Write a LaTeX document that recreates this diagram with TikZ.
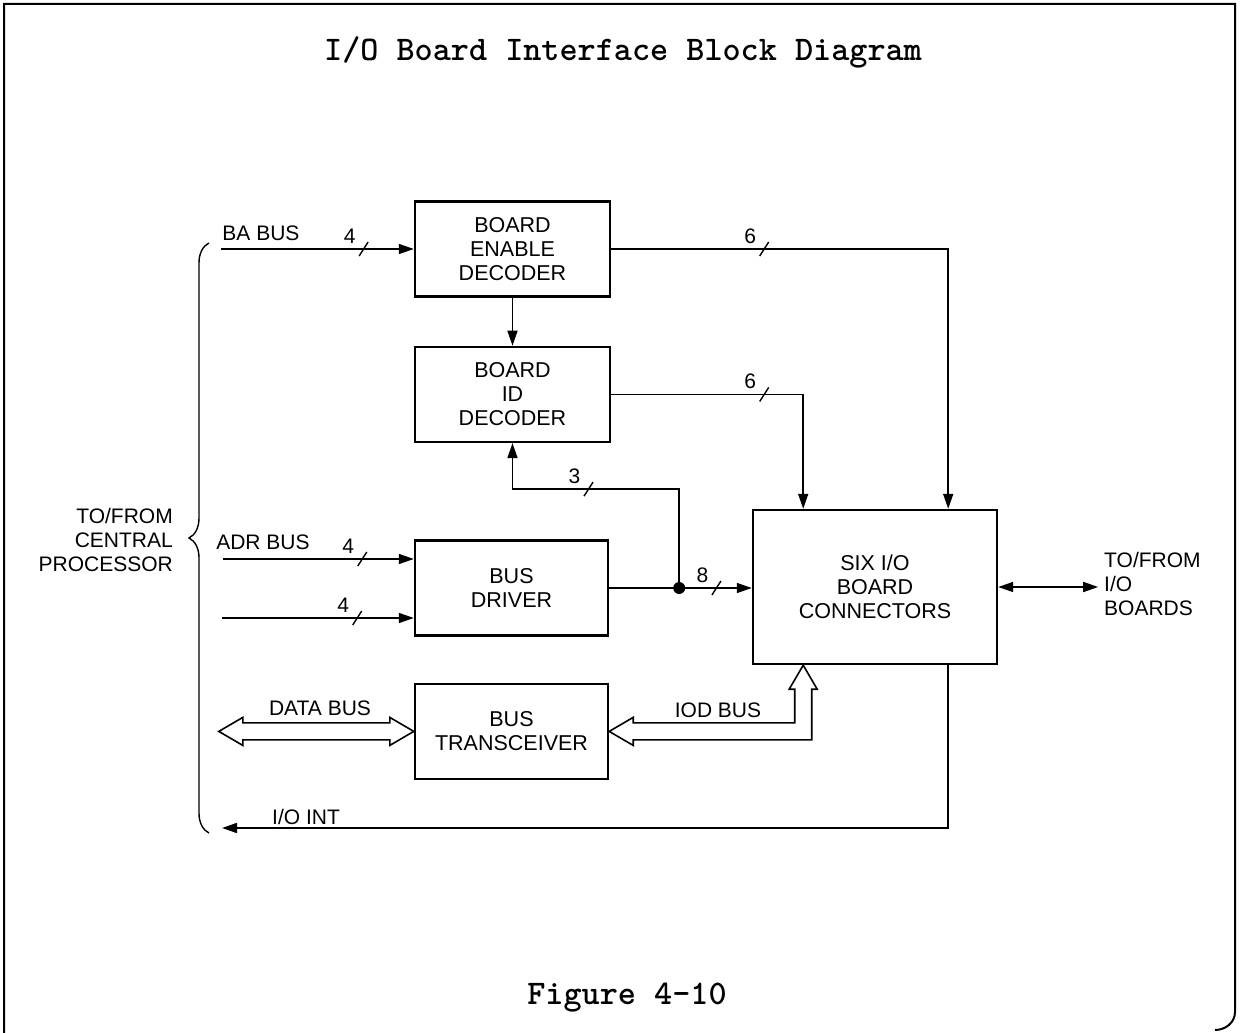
\documentclass[tikz,border=0pt]{standalone}
\usepackage{fontspec}
\setmainfont{Liberation Sans}
\usetikzlibrary{arrows.meta,calc,positioning,decorations.pathreplacing}

\begin{document}
\begin{tikzpicture}[x=1pt,y=-1pt,
  >={Triangle[length=15pt,width=10pt]},
  blk/.style={draw,line width=2.4pt,align=center,font=\fontsize{21.5}{24}\selectfont,
              minimum width=#1,minimum height=95},blk/.default=195,
  lbl/.style={inner sep=0pt,font=\fontsize{21}{24}\selectfont},
  ttl/.style={inner sep=0pt,font=\ttfamily\bfseries\fontsize{34.5}{40}\selectfont},
  sig/.style={line width=1.6pt,->},
  bus/.style={draw,line width=1.6pt,fill=white,line join=miter},
  bw/.pic={\draw[line width=1.4pt,-] (-4.5,7) -- (4.5,-7);
           \node[lbl,text depth=0pt] (-n) at (-14,-13) {#1};}]
  \useasboundingbox (0,0) rectangle (1240,1033);
  \draw[line width=2pt] (4,1033) -- (4,4) -- (1235,4) -- (1235,1012) to[out=-90,in=0] (1215,1030);
  \node[ttl] (title) at (623,52) {I/O Board Interface Block Diagram};
  \node[ttl] (fig) at (627,998) {Figure 4-10};
  % blocks
  \node[blk] (bed) at (512.5,249) {BOARD\\ENABLE\\DECODER};
  \node[blk,below=48pt of bed] (bid) {BOARD\\ID\\DECODER};
  \node[blk=193] (drv) at (511.5,588) {BUS\\DRIVER};
  \node[blk=193,below=46pt of drv] (txv) {BUS\\TRANSCEIVER};
  \node[blk=244,minimum height=154] (six) at (875,587) {SIX I/O\\BOARD\\CONNECTORS};
  \node[circle,fill,inner sep=0pt,minimum size=12] (jn) at ($(drv.east)+(70,0)$) {};
  % free ends and corners
  \coordinate (bain) at ($(bed.west)+(-193,0)$);
  \coordinate (adr1) at (223,559);
  \coordinate (adr2) at (222,618);
  \coordinate (c6a) at ($(bed.east)+(337,0)$);
  \coordinate (c6b) at ($(bid.east)+(192,0)$);
  \coordinate (c3) at ($(bid.south)+(0,46)$);
  \coordinate (iout) at (222,828);
  \coordinate (brd) at ($(six.east)+(100,0)$);
  \coordinate (dbus) at ($(txv.west)+(-195,0)$);
  \coordinate (ciod) at ($(txv.east)+(194,0)$);
  % signal lines
  \foreach \a/\b/\w/\p in {bain/bed/4/.74,adr1/drv/4/.73,adr2/drv/4/.705}
    \draw[sig] (\a) -- (\b.west |- \a) pic[pos=\p] (w\a) {bw=\w};
  \draw[sig] (bed.east) -- (c6a) pic[pos=.454] (w6a) {bw=6} -- (six.north -| c6a);
  \draw[sig] (bed) -- (bid);
  \draw[sig] (bid.east) -- (c6b) pic[pos=.797] (w6b) {bw=6} -- (six.north -| c6b);
  \draw[sig] (drv.east) -- (six.west |- drv.east) pic[pos=.752] (w8) {bw=8};
  \draw[sig] (jn) |- (c3) pic[pos=.772] (w3) {bw=3} -- (bid.south);
  \draw[sig] (six.south -| c6a) |- (iout);
  \draw[line width=1.6pt,<->] (six.east) -- (brd);
  % hollow buses
  \draw[bus] (dbus) -- ++(24,-14) -- ++(0,5.5) -- ($(txv.west)+(-24,-8.5)$) -- ++(0,-5.5)
    -- (txv.west) -- ++(-24,14) -- ++(0,-5.5) -- ($(dbus)+(24,8.5)$) -- ++(0,5.5) -- cycle;
  \draw[bus] (six.south -| ciod) -- ++(14,24) -- ++(-5.5,0) |- ($(txv.east)+(24,8.5)$) -- ++(0,5.5)
    -- (txv.east) -- ++(24,-14) -- ++(0,5.5) -| ($(six.south -| ciod)+(-8.5,24)$) -- ++(-5.5,0) -- cycle;
  \draw[line width=1.4pt,decorate,decoration={brace,amplitude=20pt}] (209,833) -- (209,243);
  % labels
  \node[lbl,text depth=0pt] (lba) at (261,233) {BA BUS};
  \node[lbl,text depth=0pt] (ladr) at (263,542) {ADR BUS};
  \node[lbl,text depth=0pt] (ldata) at (320,708) {DATA BUS};
  \node[lbl,text depth=0pt] (liod) at (718,710) {IOD BUS};
  \node[lbl,text depth=0pt] (lint) at (306,817) {I/O INT};
  \node[lbl,align=right,anchor=east] (cpu) at (173,540) {TO/FROM\\CENTRAL\\PROCESSOR};
  \node[lbl,align=left,anchor=west] (brds) at (1104,584) {TO/FROM\\I/O\\BOARDS};
\end{tikzpicture}
\end{document}
